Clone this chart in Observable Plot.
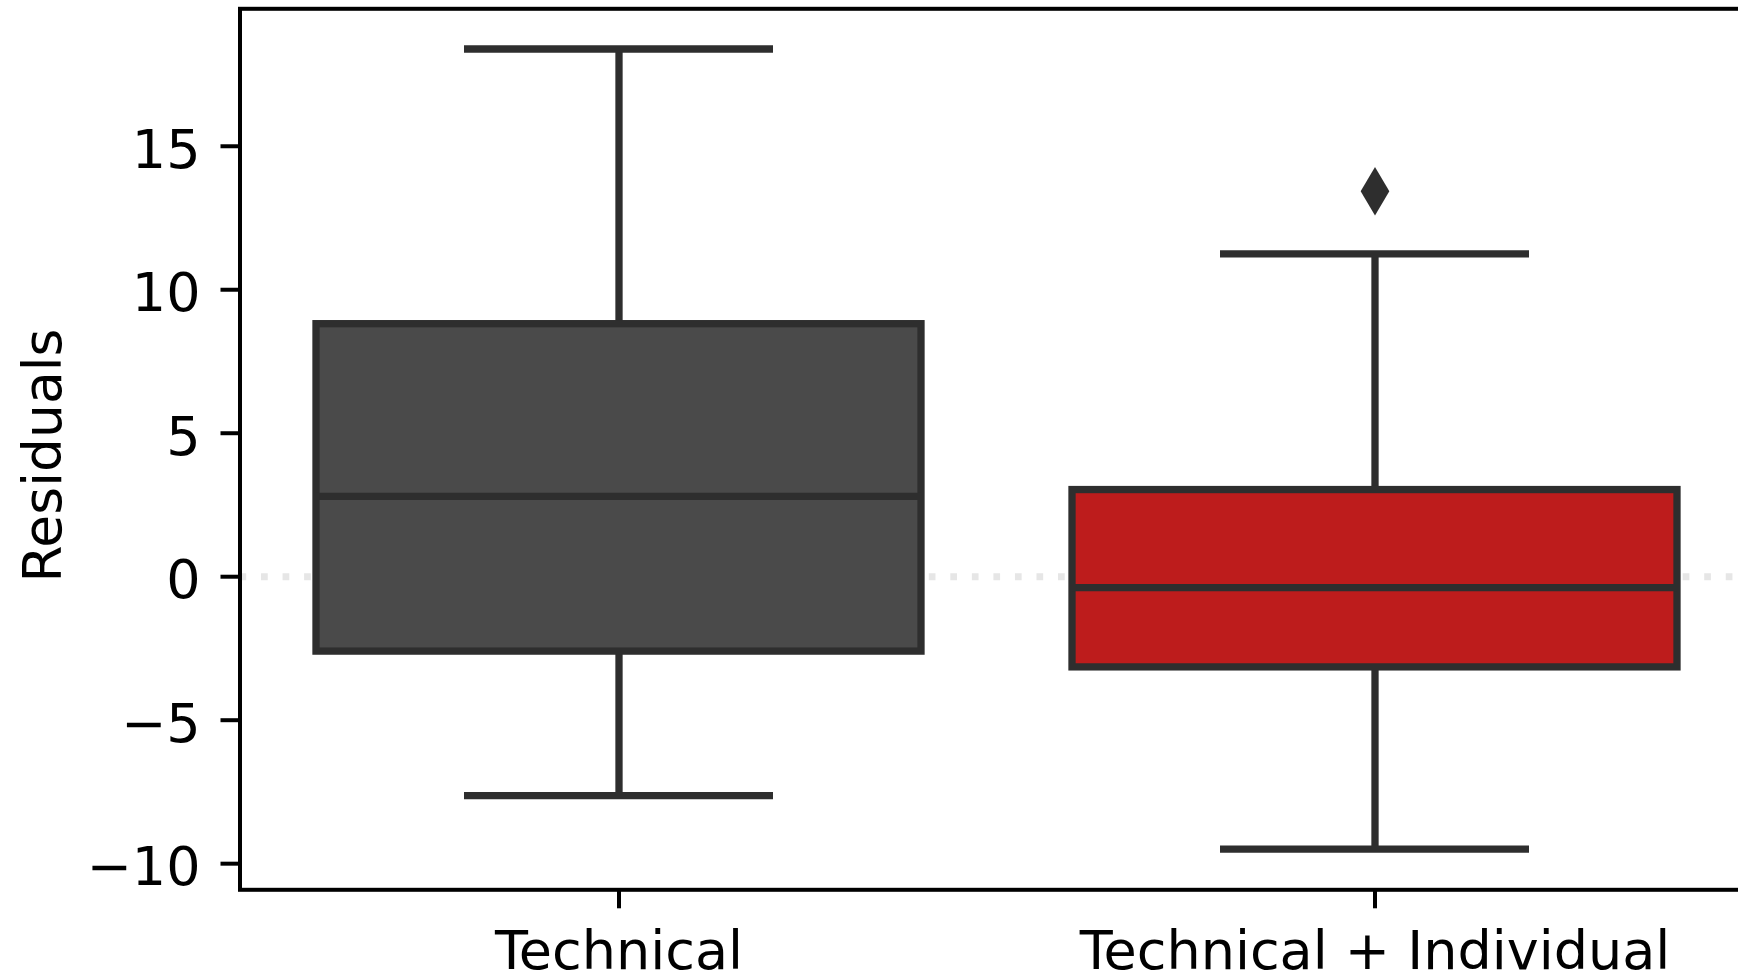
<!DOCTYPE html>
<html>
<head>
<meta charset="utf-8">
<script src="https://cdn.jsdelivr.net/npm/d3@7"></script>
<script src="https://cdn.jsdelivr.net/npm/@observablehq/plot@0.6"></script>
<style>
  html, body { margin: 0; padding: 0; background: #fff; overflow: hidden; }
</style>
</head>
<body>
<div id="chart"></div>
<script>
// Residual distributions for the two models (box-plot summary statistics)
const models = ["Technical", "Technical + Individual"];
const lowerWhisker = [-7.63, -9.49];
const quartile1 = [-2.61, -3.16];
const medians = [2.80, -0.38];
const quartile3 = [8.80, 3.02];
const upperWhisker = [18.39, 11.25];

// Points beyond the whiskers
const outlierModels = ["Technical + Individual"];
const outlierValues = [13.43];

const boxFills = ["#4a4a4a", "#bd1c1c"];
const yTicks = [-10, -5, 0, 5, 10, 15];

const boxes = models.map((model, i) => ({
  model,
  lo: lowerWhisker[i],
  q1: quartile1[i],
  med: medians[i],
  q3: quartile3[i],
  hi: upperWhisker[i]
}));
const outliers = outlierModels.map((model, i) => ({model, value: outlierValues[i]}));

const edge = "#2e2e2e";
const lw = 7.3;
const tickFont = 54;

// Tall, narrow diamond used for outlier markers
const thinDiamond = {
  draw(context, size) {
    const h = Math.sqrt(size / Math.PI);
    const w = h * 0.59;
    context.moveTo(0, -h);
    context.lineTo(w, 0);
    context.lineTo(0, h);
    context.lineTo(-w, 0);
    context.closePath();
  }
};

const minus = (d) => (d < 0 ? "\u2212" + Math.abs(d) : String(d));

const chart = Plot.plot({
  width: 1738,
  height: 973,
  marginLeft: 239.5,
  marginRight: -14.5,
  marginTop: 8.3,
  marginBottom: 83.7,
  style: {fontFamily: "DejaVu Sans", fontSize: tickFont + "px", color: "black", background: "white"},
  x: {type: "band", domain: models, paddingInner: 0.2, paddingOuter: 0.1},
  y: {domain: [-10.91, 19.79]},
  color: {domain: models, range: boxFills},
  marks: [
    // dotted reference line at zero
    Plot.ruleY([0], {stroke: "#e6e6e6", strokeWidth: 7, strokeDasharray: "6.7 14.84"}),
    // whiskers
    Plot.ruleX(boxes, {x: "model", y1: "q3", y2: "hi", stroke: edge, strokeWidth: lw}),
    Plot.ruleX(boxes, {x: "model", y1: "lo", y2: "q1", stroke: edge, strokeWidth: lw}),
    // whisker caps
    Plot.tickY(boxes, {x: "model", y: "hi", stroke: edge, strokeWidth: lw, insetLeft: 148, insetRight: 148}),
    Plot.tickY(boxes, {x: "model", y: "lo", stroke: edge, strokeWidth: lw, insetLeft: 148, insetRight: 148}),
    // interquartile boxes
    Plot.barY(boxes, {x: "model", y1: "q1", y2: "q3", fill: "model", stroke: edge, strokeWidth: lw}),
    // medians
    Plot.tickY(boxes, {x: "model", y: "med", stroke: edge, strokeWidth: lw}),
    // outliers
    Plot.dot(outliers, {x: "model", y: "value", r: 24.3, symbol: thinDiamond, fill: edge, stroke: null}),
    // y axis: tick marks, then labels nudged to sit centred on them
    Plot.axisY({ticks: yTicks, tickSize: 19, tickFormat: () => "", strokeWidth: 4, label: null}),
    Plot.axisY({
      ticks: yTicks, tickFormat: minus, tickSize: 0, tickPadding: 39.5,
      fontSize: tickFont, dy: 4.4, label: null
    }),
    Plot.axisX({tickSize: 19, tickPadding: 21.7, strokeWidth: 4, fontSize: tickFont, label: null}),
    Plot.text(["Residuals"], {
      frameAnchor: "left", dx: -196.6, dy: 6.2, rotate: -90,
      fontSize: 53.5, fill: "black", textAnchor: "middle", lineAnchor: "middle"
    }),
    Plot.frame({stroke: "black", strokeWidth: 4})
  ]
});

document.getElementById("chart").append(chart);
</script>
</body>
</html>
